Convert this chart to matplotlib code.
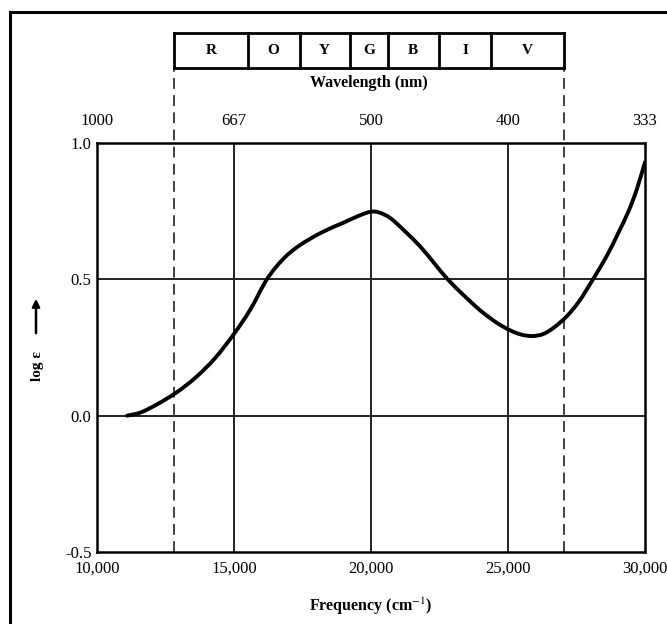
import numpy as np
import matplotlib.pyplot as plt
from matplotlib.lines import Line2D
from matplotlib.path import Path
from matplotlib.patches import PathPatch
import matplotlib.transforms as mtransforms

plt.rcParams['font.family'] = ['Liberation Serif', 'DejaVu Serif']
plt.rcParams['mathtext.fontset'] = 'stix'

# absorption curve
freq = [11100, 11600, 12200, 12900, 13600, 14300, 15000, 15600, 16200, 16800,
        17400, 18200, 19000, 19600, 20000, 20300, 20700, 21200, 21800, 22300,
        22800, 23400, 24000, 24600, 25100, 25500, 25900, 26300, 26700, 27150,
        27600, 28100, 28600, 29000, 29400, 29700, 30000]
log_eps = [0.0, 0.012, 0.042, 0.085, 0.14, 0.21, 0.30, 0.39, 0.50, 0.575,
           0.625, 0.672, 0.708, 0.735, 0.748, 0.745, 0.725, 0.68, 0.62, 0.56,
           0.50, 0.44, 0.385, 0.34, 0.312, 0.297, 0.292, 0.30, 0.325, 0.365,
           0.42, 0.50, 0.585, 0.665, 0.75, 0.83, 0.93]

x_ticks = [10000, 15000, 20000, 25000, 30000]
x_labels = ['10,000', '15,000', '20,000', '25,000', '30,000']
y_ticks = [-0.5, 0.0, 0.5, 1.0]
y_labels = ['-0.5', '0.0', '0.5', '1.0']
wave_labels = ['1000', '667', '500', '400', '333']

# colour bands, boundaries in nm
band_edges_nm = [780, 645, 575, 520, 485, 445, 410, 370]
band_names = ['R', 'O', 'Y', 'G', 'B', 'I', 'V']


def smooth_path(xs, ys):
    # Catmull-Rom through the points, drawn as cubic bezier segments
    pts = np.column_stack([xs, ys]).astype(float)
    verts = [pts[0]]
    codes = [Path.MOVETO]
    n = len(pts)
    for i in range(n - 1):
        p0 = pts[max(i - 1, 0)]
        p1 = pts[i]
        p2 = pts[i + 1]
        p3 = pts[min(i + 2, n - 1)]
        verts += [p1 + (p2 - p0) / 6, p2 - (p3 - p1) / 6, p2]
        codes += [Path.CURVE4] * 3
    return Path(verts, codes)


W, H = 667, 624
fig = plt.figure(figsize=(W / 100, H / 100), dpi=100)

# outer frame (only left and top show in the scan)
fig.add_artist(Line2D([10 / W, 10 / W], [0, 1 - 12 / H], color='black', lw=2.2))
fig.add_artist(Line2D([10 / W, 1], [1 - 12 / H, 1 - 12 / H], color='black', lw=2.2))

left, right = 97 / W, 645 / W
bottom, top = 1 - 552 / H, 1 - 143 / H
ax = fig.add_axes([left, bottom, right - left, top - bottom])
ax.set_xlim(10000, 30000)
ax.set_ylim(-0.5, 1.0)

for v in [15000, 20000, 25000]:
    ax.axvline(v, color='#222222', lw=1.4)
for v in [0.0, 0.5]:
    ax.axhline(v, color='#222222', lw=1.4)

ax.add_patch(PathPatch(smooth_path(freq, log_eps), facecolor='none',
                       edgecolor='black', lw=2.8, capstyle='round', zorder=3))

for s in ax.spines.values():
    s.set_linewidth(1.8)

ax.set_xticks(x_ticks)
ax.set_xticklabels(x_labels)
ax.set_yticks(y_ticks)
ax.set_yticklabels(y_labels)
ax.tick_params(length=0, labelsize=12)
ax.tick_params(axis='x', pad=6)
ax.tick_params(axis='y', pad=4)

ax.set_xlabel('Frequency (cm$^{-1}$)', fontsize=11.5, fontweight='bold', labelpad=14)

# wavelength scale on top
top_ax = ax.twiny()
top_ax.set_xlim(ax.get_xlim())
top_ax.set_xticks(x_ticks)
top_ax.set_xticklabels(wave_labels)
top_ax.tick_params(length=0, labelsize=12, pad=10)
for s in top_ax.spines.values():
    s.set_visible(False)

# dashed limits of the visible range
edges_freq = [1e7 / nm for nm in band_edges_nm]
trans = mtransforms.blended_transform_factory(ax.transData, ax.transAxes)
y_top = (552 - 68) / (552 - 143)
for f in [edges_freq[0], edges_freq[-1]]:
    ax.plot([f, f], [0, y_top], transform=trans, clip_on=False,
            color='#333333', lw=1.3, dashes=(6, 3.5))

# colour band box
box_ax = fig.add_axes([left, 1 - 68 / H, right - left, 35 / H])
box_ax.set_xlim(ax.get_xlim())
box_ax.set_ylim(0, 1)
box_ax.axis('off')
box_ax.plot([edges_freq[0], edges_freq[-1]], [1, 1], color='black', lw=2, clip_on=False)
box_ax.plot([edges_freq[0], edges_freq[-1]], [0, 0], color='black', lw=2, clip_on=False)
for f in edges_freq:
    box_ax.plot([f, f], [0, 1], color='black', lw=2, clip_on=False)
for i, name in enumerate(band_names):
    xc = (edges_freq[i] + edges_freq[i + 1]) / 2
    box_ax.text(xc, 0.5, name, ha='center', va='center', fontsize=11, fontweight='bold')
box_ax.text((edges_freq[0] + edges_freq[-1]) / 2, -0.42, 'Wavelength (nm)',
            ha='center', va='center', fontsize=11.5, fontweight='bold')

# y label with arrow
fig.text(37 / W, 1 - 366 / H, 'log ε', rotation=90, ha='center', va='center',
         fontsize=11, fontweight='bold')
ax.annotate('', xy=(36 / W, 1 - 296 / H), xytext=(36 / W, 1 - 336 / H),
            xycoords='figure fraction', textcoords='figure fraction',
            arrowprops=dict(arrowstyle='-|>', color='black', lw=1.8, mutation_scale=11))

fig.savefig('out.png', dpi=100)
